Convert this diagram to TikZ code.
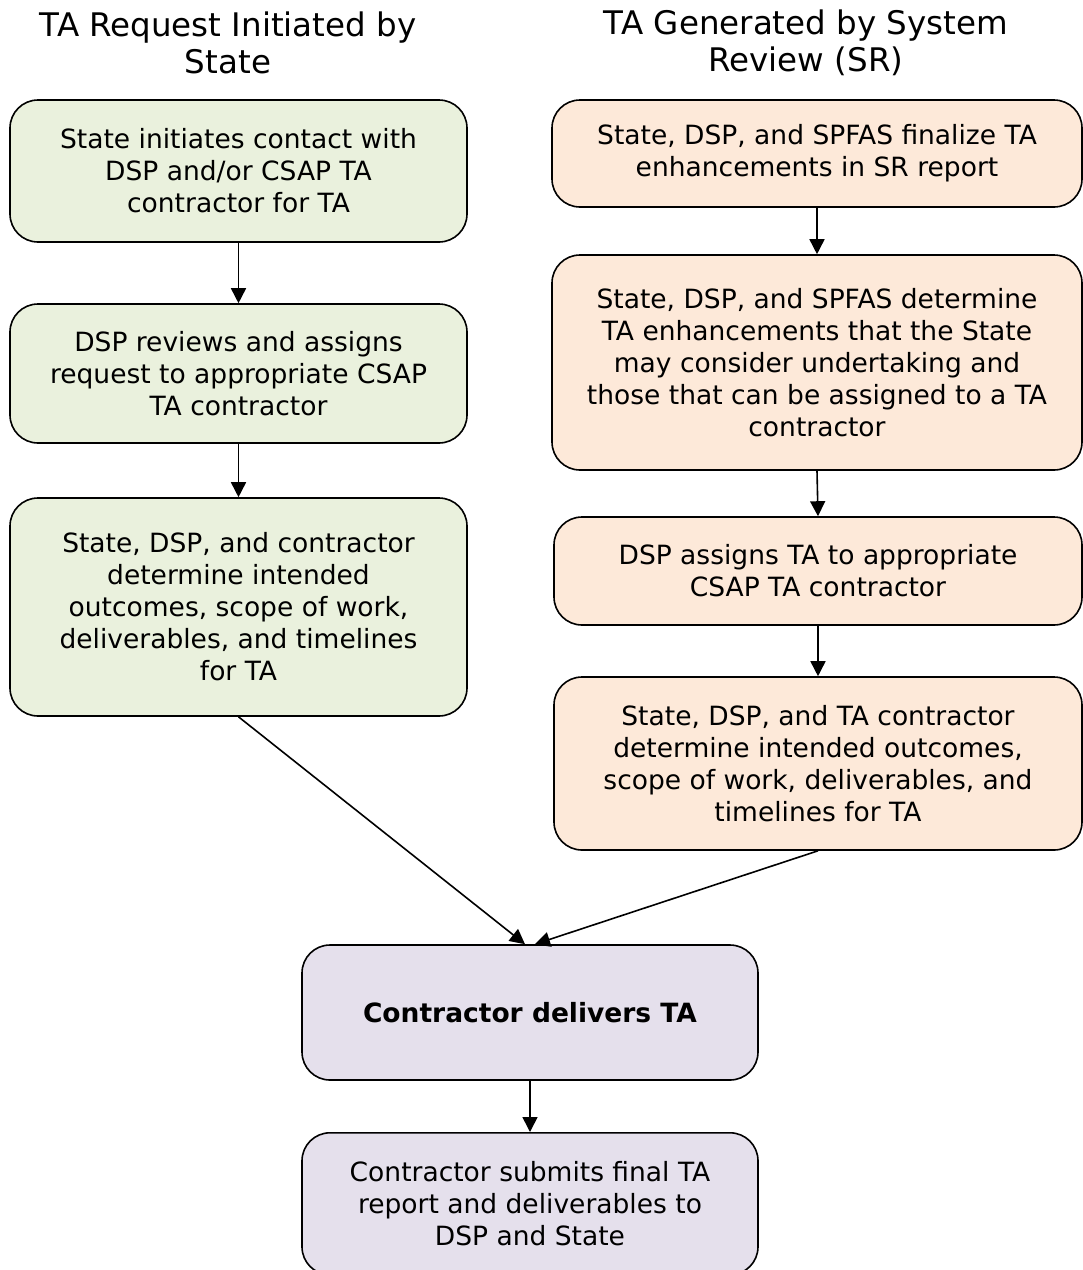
\documentclass[tikz,border=0pt]{standalone}
\usepackage{fontspec}
\setmainfont{DejaVu Sans}
\usetikzlibrary{arrows.meta}
\definecolor{boxgreen}{HTML}{EAF1DD}
\definecolor{boxorange}{HTML}{FDE9D9}
\definecolor{boxpurple}{HTML}{E5E0EC}
\tikzset{
 stepbox/.style={draw, line width=1.6pt, rounded corners=28pt, align=center, inner sep=0pt,
   font=\fontsize{26.5}{32}\selectfont},
 head/.style={align=center, font=\fontsize{32.5}{37}\selectfont},
 flow/.style={-{Triangle[length=15pt,width=15pt]}, line width=1.6pt}
}
\begin{document}
\begin{tikzpicture}[x=1pt, y=-1pt]
 \useasboundingbox (0,0) rectangle (1083,1270);
 % column headings
 \node[head] (hl) at (228,43) {TA Request Initiated by\\State};
 \node[head] (hr) at (806,43) {TA Generated by System\\Review (SR)};
 % left column
 \node[stepbox, fill=boxgreen, minimum width=457pt, minimum height=142pt] (g1) at (238.5,171) {State initiates contact with\\DSP and/or CSAP TA\\contractor for TA};
 \node[stepbox, fill=boxgreen, minimum width=457pt, minimum height=139pt] (g2) at (238.5,373.5) {DSP reviews and assigns\\request to appropriate CSAP\\TA contractor};
 \node[stepbox, fill=boxgreen, minimum width=457pt, minimum height=218pt] (g3) at (238.5,607) {State, DSP, and contractor\\determine intended\\outcomes, scope of work,\\deliverables, and timelines\\for TA};
 % right column
 \node[stepbox, fill=boxorange, minimum width=530pt, minimum height=107pt] (o1) at (817,153.5) {State, DSP, and SPFAS finalize TA\\enhancements in SR report};
 \node[stepbox, fill=boxorange, minimum width=530pt, minimum height=215pt] (o2) at (817,362.5) {State, DSP, and SPFAS determine\\TA enhancements that the State\\may consider undertaking and\\those that can be assigned to a TA\\contractor};
 \node[stepbox, fill=boxorange, minimum width=528pt, minimum height=108pt] (o3) at (818,571) {DSP assigns TA to appropriate\\CSAP TA contractor};
 \node[stepbox, fill=boxorange, minimum width=528pt, minimum height=173pt] (o4) at (818,763.5) {State, DSP, and TA contractor\\determine intended outcomes,\\scope of work, deliverables, and\\timelines for TA};
 % joint steps
 \node[stepbox, fill=boxpurple, minimum width=456pt, minimum height=135pt] (p1) at (530,1012.5) {\bfseries Contractor delivers TA};
 \node[stepbox, fill=boxpurple, minimum width=456pt, minimum height=142pt, anchor=north] (p2) at (530,1132) {Contractor submits final TA\\report and deliverables to\\DSP and State};
 % connectors
 \draw[flow] (g1) -- (g2);
 \draw[flow] (g2) -- (g3);
 \draw[flow] (g3.south) -- ([xshift=-5pt]p1.north);
 \draw[flow] (o1) -- (o2);
 \draw[flow] (o2.south) -- (o3.north);
 \draw[flow] (o3) -- (o4);
 \draw[flow] (o4.south) -- ([xshift=5pt]p1.north);
 \draw[flow] (p1) -- (p2);
\end{tikzpicture}
\end{document}
